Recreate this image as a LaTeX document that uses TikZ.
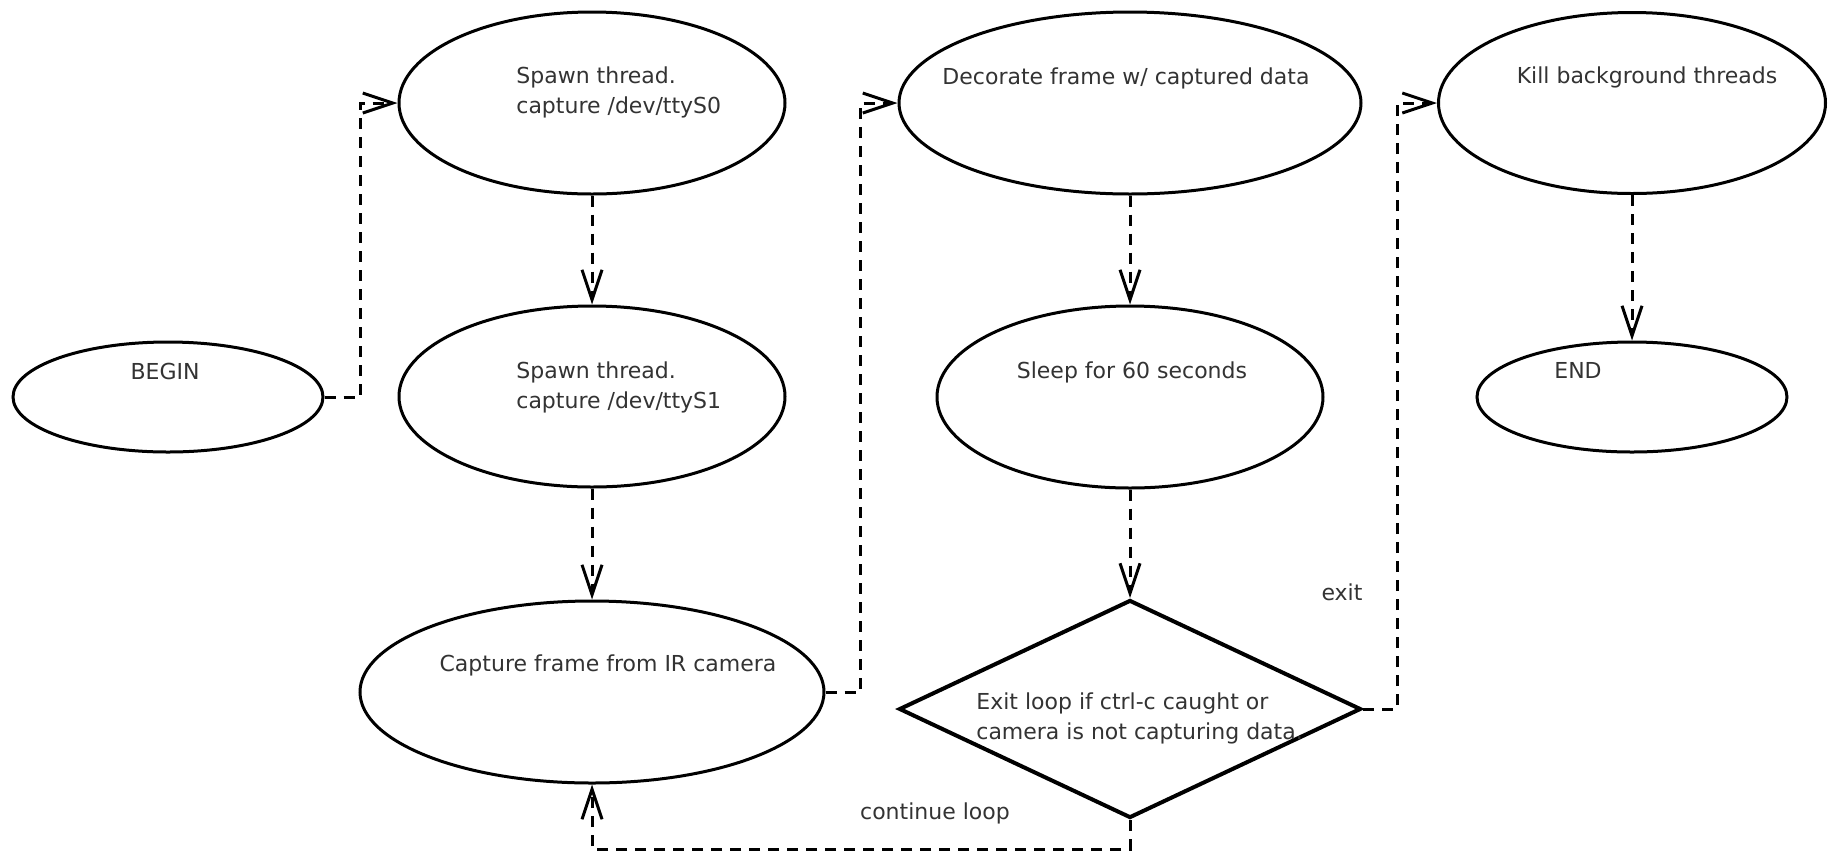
\documentclass[tikz,border=0pt]{standalone}
\usepackage{fontspec}
\setmainfont{DejaVu Sans}
\usetikzlibrary{shapes.geometric,arrows.meta}
\begin{document}
\begin{tikzpicture}[x=0.5pt,y=-0.5pt,
  state/.style={ellipse,draw=black,line width=1.5pt,inner sep=0pt},
  decision/.style={diamond,draw=black,line width=2pt,inner sep=0pt},
  txt/.style={font=\fontsize{11}{15}\selectfont,text=black!80,inner sep=0pt},
  conn/.style={draw=black,line width=1.5pt,dash pattern=on 5.5pt off 4pt,-{Straight Barb[length=15pt,width=10pt]}},
]
\fill[white] (0,0) rectangle (1828,858);
\useasboundingbox (0,0) rectangle (1828,858);

\node[state,minimum width=155pt,minimum height=55pt] (begin) at (168,397) {};
\node[state,minimum width=193pt,minimum height=91pt] (s0) at (592,103) {};
\node[state,minimum width=193pt,minimum height=90.5pt] (s1) at (592,396.5) {};
\node[state,minimum width=232pt,minimum height=91pt] (cap) at (592,692) {};
\node[state,minimum width=231pt,minimum height=91pt] (dec) at (1130,103) {};
\node[state,minimum width=193pt,minimum height=91pt] (sleep) at (1130,397) {};
\node[decision,minimum width=231pt,minimum height=109pt] (dia) at (1130,709) {};
\node[state,minimum width=193.5pt,minimum height=90.5pt] (kill) at (1632,103) {};
\node[state,minimum width=155pt,minimum height=55pt] (end) at (1632,397) {};

\node[txt] (tbegin) at (165,371) {BEGIN};
\node[txt,align=left,anchor=west] (ts0) at (516,92) {Spawn thread.\\capture /dev/ttyS0};
\node[txt,align=left,anchor=west] (ts1) at (516,387) {Spawn thread.\\capture /dev/ttyS1};
\node[txt] (tcap) at (608,665) {Capture frame from IR camera};
\node[txt] (tdec) at (1126,78) {Decorate frame w/ captured data};
\node[txt] (tsleep) at (1132,372) {Sleep for 60 seconds};
\node[txt,align=left,anchor=west] (tdia) at (976,718) {Exit loop if ctrl-c caught or\\camera is not capturing data.};
\node[txt] (tkill) at (1647,77) {Kill background threads};
\node[txt] (tend) at (1578,370) {END};
\node[txt] (texit) at (1342,592) {exit};
\node[txt] (tloop) at (935,813) {continue loop};

\coordinate (b1) at (360,397);
\coordinate (d1) at (860,692);
\coordinate (e1) at (1397,709);
\coordinate (l1) at (1130,849);
\coordinate (l2) at (592,849);

\draw[conn] (begin.east) -- (b1) |- (s0.west);
\draw[conn] (s0.south) -- (s1.north);
\draw[conn] (s1.south) -- (cap.north);
\draw[conn] (cap.east) -- (d1) |- (dec.west);
\draw[conn] (dec.south) -- (sleep.north);
\draw[conn] (sleep.south) -- (dia.north);
\draw[conn] (dia.east) -- (e1) |- (kill.west);
\draw[conn] (dia.south) -- (l1) -- (l2) -- (cap.south);
\draw[conn] (kill.south) -- (end.north);
\end{tikzpicture}
\end{document}
